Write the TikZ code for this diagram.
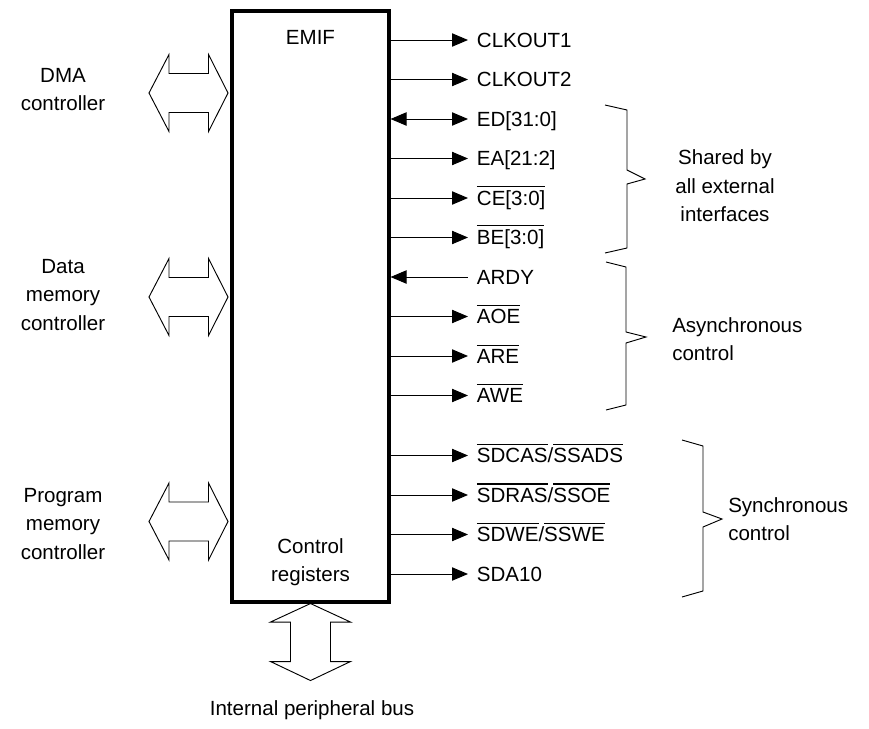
\documentclass[tikz,border=0pt]{standalone}
\usepackage{fontspec}
\setmainfont{Liberation Sans}
\usetikzlibrary{arrows.meta}
\newcommand{\ovbar}[1]{\setbox0=\hbox{#1}\rlap{\rule[\dimexpr\ht0+2.6pt\relax]{\wd0}{0.8pt}}\box0}

\begin{document}
\begin{tikzpicture}[x=0.75pt,y=-0.75pt,>={Triangle[length=12pt,width=10pt]},
  font=\fontsize{15.4}{21.4}\selectfont,line join=miter,
  sig/.style={anchor=west,inner xsep=6.5pt,inner ysep=0pt,text height=11pt,text depth=0pt},
  wire/.style={line width=0.75pt},
  bus/.style={line width=0.7pt},
  brace/.style={line width=0.7pt},
  txt/.style={inner sep=0pt,align=center}]
\useasboundingbox (0,0) rectangle (869,729);
% EMIF block
\node[draw,line width=2.3pt,minimum width=117.75pt,minimum height=443.25pt] (emif) at (310.5,306.5) {};
\node[txt] (emiftitle) at (310.5,37) {EMIF};
\node[txt] (ctrlreg) at (310.5,562) {Control\\registers};
% external signals
\node[sig] (clkouta) at (468,40) {CLKOUT1};
\node[sig] (clkoutb) at (468,79.5) {CLKOUT2};
\node[sig] (ed) at (468,119) {ED[31:0]};
\node[sig] (ea) at (468,158.5) {EA[21:2]};
\node[sig] (ce) at (468,198) {\ovbar{CE[3:0]}};
\node[sig] (be) at (468,237.5) {\ovbar{BE[3:0]}};
\node[sig] (ardy) at (468,277) {ARDY};
\node[sig] (aoe) at (468,316.5) {\ovbar{AOE}};
\node[sig] (are) at (468,356) {\ovbar{ARE}};
\node[sig] (awe) at (468,395.5) {\ovbar{AWE}};
\node[sig] (sdcas) at (468,455.5) {\ovbar{SDCAS}/\ovbar{SSADS}};
\node[sig] (sdras) at (468,495) {\ovbar{SDRAS}/\ovbar{SSOE}};
\node[sig] (sdwe) at (468,534.5) {\ovbar{SDWE}/\ovbar{SSWE}};
\node[sig] (sda) at (468,574) {SDA10};
\draw[wire,->] (emif.east |- clkouta) -- (clkouta.west);
\draw[wire,->] (emif.east |- clkoutb) -- (clkoutb.west);
\draw[wire,<->] (emif.east |- ed) -- (ed.west);
\draw[wire,->] (emif.east |- ea) -- (ea.west);
\draw[wire,->] (emif.east |- ce) -- (ce.west);
\draw[wire,->] (emif.east |- be) -- (be.west);
\draw[wire,<-] (emif.east |- ardy) -- (ardy.west);
\draw[wire,->] (emif.east |- aoe) -- (aoe.west);
\draw[wire,->] (emif.east |- are) -- (are.west);
\draw[wire,->] (emif.east |- awe) -- (awe.west);
\draw[wire,->] (emif.east |- sdcas) -- (sdcas.west);
\draw[wire,->] (emif.east |- sdras) -- (sdras.west);
\draw[wire,->] (emif.east |- sdwe) -- (sdwe.west);
\draw[wire,->] (emif.east |- sda) -- (sda.west);
% braces
\draw[brace] (605,105) -- (627,110) -- (627,170) -- (645,179) -- (627,184) -- (627,248) -- (605,253);
\draw[brace] (606,262) -- (626,267) -- (626,332) -- (646,337) -- (626,343) -- (626,405) -- (606,410);
\draw[brace] (682,440) -- (703,446) -- (703,512) -- (722,519) -- (703,527) -- (703,591) -- (682,597);
\node[txt] (shared) at (725,186) {Shared by\\all external\\interfaces};
\node[txt,align=left,anchor=west] (async) at (672,339) {Asynchronous\\control};
\node[txt,align=left,anchor=west] (sync) at (728,519) {Synchronous\\control};
% controllers and buses
\draw[bus] (149,93) -- ++(20,-38.5) -- ++(0,19) -- ++(39.5,0) -- ++(0,-19) -- ++(19.5,38.5) -- ++(-19.5,38.5) -- ++(0,-19) -- ++(-39.5,0) -- ++(0,19) -- cycle;
\draw[bus] (149,297) -- ++(20,-38.5) -- ++(0,19) -- ++(39.5,0) -- ++(0,-19) -- ++(19.5,38.5) -- ++(-19.5,38.5) -- ++(0,-19) -- ++(-39.5,0) -- ++(0,19) -- cycle;
\draw[bus] (149,521.5) -- ++(20,-38.5) -- ++(0,19) -- ++(39.5,0) -- ++(0,-19) -- ++(19.5,38.5) -- ++(-19.5,38.5) -- ++(0,-19) -- ++(-39.5,0) -- ++(0,19) -- cycle;
\node[txt] (dma) at (63,89.5) {DMA\\controller};
\node[txt] (dmem) at (63,295) {Data\\memory\\controller};
\node[txt] (pmem) at (63,524) {Program\\memory\\controller};
\draw[bus] (emif.south) -- ++(-40,18.5) -- ++(20,0) -- ++(0,39.5) -- ++(-20,0) -- ++(40,19) -- ++(40,-19) -- ++(-20,0) -- ++(0,-39.5) -- ++(20,0) -- cycle;
\node[txt] (perbus) at (312,710) {Internal peripheral bus};
\end{tikzpicture}
\end{document}
